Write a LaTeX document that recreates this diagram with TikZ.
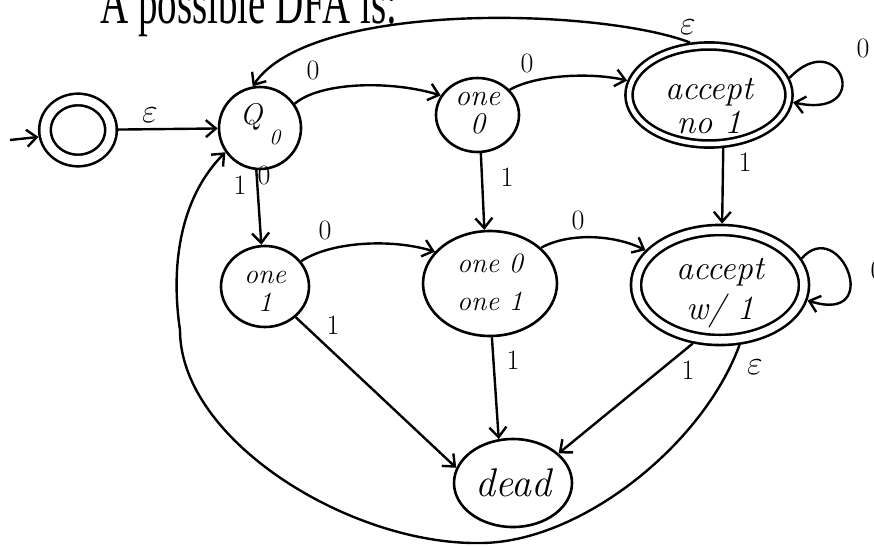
\documentclass[tikz,border=0pt]{standalone}
\usepackage{fix-cm}
\usepackage{fontspec}
\newfontfamily\hdrfont{Liberation Serif}
\usetikzlibrary{arrows.meta,shapes.geometric}
\newcommand\twoln[3]{\smash{\raisebox{#3}{\begin{tabular}{@{}c@{}}#1\\#2\end{tabular}}}}
\begin{document}
\begin{tikzpicture}[x=1pt,y=-1pt,
  st/.style={draw, ellipse, line width=2.6pt, inner sep=0pt, outer sep=1.3pt},
  hand/.style 2 args={font=\fontsize{#1}{#2}\selectfont\itshape},
  edge/.style={line width=2.4pt, -{Straight Barb[length=10pt,width=17pt,line width=2.4pt]}},
  lbl/.style={inner sep=0pt, font=\fontsize{28}{28}\selectfont},
  eps/.style={inner sep=0pt, font=\fontsize{34}{34}\selectfont},
  hdr/.style={inner sep=0pt, font=\hdrfont\fontsize{39}{39}\selectfont}]
\useasboundingbox (0,0) rectangle (874,546);
\fill[white] (0,0) rectangle (874,546);

\node[hdr, anchor=base west] (title) at (100,23) {\scalebox{1}[1.6]{A possible DFA is:}};

% states
\node[st, double, double distance=9pt, outer sep=7.1pt, minimum width=66pt, minimum height=61pt] (start) at (78,130) {};
\node[st, minimum width=82pt, minimum height=82pt, hand={30}{30}] (q0) at (260,128)
  {\smash{\raisebox{4pt}{Q\hspace{7pt}\raisebox{-20pt}{\fontsize{22}{22}\selectfont 0}}}};
\node[st, minimum width=83pt, minimum height=74pt, hand={30}{26}] (one0) at (477.5,115) {\twoln{one}{0}{-7pt}};
\node[st, double, double distance=4.5pt, outer sep=4.9pt, minimum width=160pt, minimum height=98pt, hand={34}{34}] (acc0) at (709,95) {\twoln{accept}{no 1}{-23pt}};
\node[st, minimum width=88pt, minimum height=81pt, hand={28}{28}] (one1) at (265,286.5) {\twoln{one}{1}{-12pt}};
\node[st, minimum width=134pt, minimum height=105pt, hand={28}{38}] (both) at (490,283.5) {\twoln{one 0}{one 1}{-7pt}};
\node[st, double, double distance=7.5pt, outer sep=6.4pt, minimum width=168pt, minimum height=110pt, hand={34}{40}] (acc1) at (720,285) {\twoln{accept}{w/ 1}{-15pt}};
\node[st, minimum width=118pt, minimum height=88pt, hand={40}{40}] (dead) at (513,483) {dead};

% transitions
\coordinate (in) at (10,140);
\draw[edge] (in) -- (start.190);
\draw[edge] (start) -- (q0);
\draw[edge] (q0.35) .. controls (320,82) and (390,80) .. (one0.152);
\draw[edge] (one0.38) .. controls (535,75) and (590,72) .. (acc0.170);
\draw[edge] (acc0.12) .. controls (840,25) and (875,120) .. (acc0.-5);
\draw[edge] (acc0.110) .. controls (600,8) and (310,0) .. (q0.100);
\draw[edge] (q0.-95) -- (one1.95);
\draw[edge] (one0.-85) -- (both.96);
\draw[edge] (acc0.-75) -- (acc1.88);
\draw[edge] (one1.35) .. controls (330,242) and (390,238) .. (both.150);
\draw[edge] (both.35) .. controls (570,232) and (615,235) .. (acc1.155);
\draw[edge] (acc1.18) .. controls (840,215) and (885,325) .. (acc1.-10);
\draw[edge] (one1.-45) -- (dead.165);
\draw[edge] (both.-88) -- (dead.108);
\draw[edge] (acc1.-115) -- (dead.33);
\draw[edge] (acc1.-72) .. controls (703,445) and (580,543) .. (480,543)
  .. controls (350,545) and (180,440) .. (180,330)
  .. controls (171,270) and (178,200) .. (q0.215);

% labels
\node[eps] (e1) at (150,115) {$\varepsilon$};
\node[lbl] (l1) at (313,70) {0};
\node[lbl] (l2) at (527,63) {0};
\node[eps] (e2) at (688,27) {$\varepsilon$};
\node[lbl] (l3) at (863,48) {0};
\node[lbl] (l4) at (240,185) {1};
\node[lbl] (l5) at (264,175) {0};
\node[lbl] (l6) at (507,177) {1};
\node[lbl] (l7) at (745,162) {1};
\node[lbl] (l8) at (325,230) {0};
\node[lbl] (l9) at (578,220) {0};
\node[lbl] (l10) at (877,270) {0};
\node[lbl] (l11) at (333,325) {1};
\node[lbl] (l12) at (513,360) {1};
\node[lbl] (l13) at (688,370) {1};
\node[eps] (e3) at (755,367) {$\varepsilon$};
\end{tikzpicture}
\end{document}
